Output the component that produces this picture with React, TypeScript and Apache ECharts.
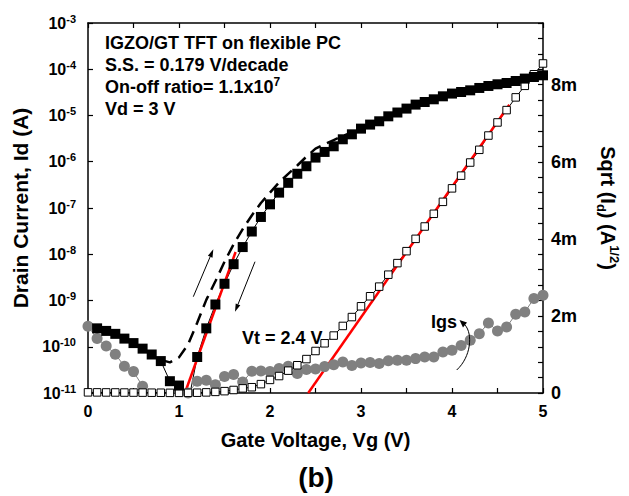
import React, { useEffect, useRef } from 'react';
import * as echarts from 'echarts';

// Gate voltage (V)
const vg = [
  0, 0.1, 0.2, 0.3, 0.4, 0.5, 0.6, 0.7, 0.8, 0.9,
  1.0, 1.1, 1.2, 1.3, 1.4, 1.5, 1.6, 1.7, 1.8, 1.9,
  2.0, 2.1, 2.2, 2.3, 2.4, 2.5, 2.6, 2.7, 2.8, 2.9,
  3.0, 3.1, 3.2, 3.3, 3.4, 3.5, 3.6, 3.7, 3.8, 3.9,
  4.0, 4.1, 4.2, 4.3, 4.4, 4.5, 4.6, 4.7, 4.8, 4.9, 5.0,
];

// Drain current, forward sweep (A) — filled squares
const idForward = [
  null, 2.5e-10, 2.2e-10, 1.9e-10, 1.5e-10, 1.2e-10, 9.1e-11, 6.8e-11, 4.9e-11, 1.8e-11,
  1.45e-11, 6e-12, 6.0e-11, 2.5e-10, 8.2e-10, 2.3e-9, 6.1e-9, 1.43e-8, 3.1e-8, 6.4e-8,
  1.2e-7, 2.15e-7, 3.5e-7, 5.5e-7, 8.0e-7, 1.23e-6, 1.63e-6, 2.16e-6, 3.06e-6, 3.92e-6,
  5.2e-6, 6.36e-6, 7.5e-6, 9.6e-6, 1.16e-5, 1.41e-5, 1.72e-5, 1.96e-5, 2.24e-5, 2.6e-5,
  2.98e-5, 3.22e-5, 3.5e-5, 3.94e-5, 4.35e-5, 4.73e-5, 5.05e-5, 5.57e-5, 6.28e-5, 6.8e-5, 7.4e-5,
];

// Drain current, reverse sweep (A) — dashed line
const idReverse = [
  null, null, null, null, null, null, null, null, 5.2e-11, 4.6e-11,
  5.9e-11, 1.13e-10, 3.3e-10, 1.03e-9, 2.6e-9, 6.9e-9, 1.64e-8, 3.5e-8, 6.9e-8, 1.28e-7,
  2.15e-7, 3.57e-7, 5.46e-7, 8.3e-7, 1.29e-6, 1.92e-6, 2.38e-6, 2.94e-6, 3.62e-6, 4.3e-6,
  null, null, null, null, null, null, null, null, null, null,
  null, null, null, null, null, null, null, null, null, null, null,
];

// Sqrt(Id) in m(A^1/2) — open squares, right axis
const sqrtId = [
  0.017, 0.016, 0.015, 0.014, 0.012, 0.011, 0.010, 0.008, 0.007, 0.004,
  0.004, 0.005, 0.008, 0.016, 0.029, 0.048, 0.078, 0.12, 0.15, 0.23,
  0.34, 0.44, 0.58, 0.72, 0.88, 1.09, 1.29, 1.49, 1.74, 1.97,
  2.25, 2.51, 2.76, 3.07, 3.37, 3.68, 4.0, 4.32, 4.65, 4.96,
  5.31, 5.64, 5.98, 6.31, 6.68, 7.02, 7.34, 7.67, 7.97, 8.27, 8.55,
];

// Gate leakage current Igs (A) — grey circles
const igs = [
  2.77e-10, 1.5e-10, 1.04e-10, 6.9e-11, 3.8e-11, 2.9e-11, 1.4e-11, 7e-12, 5e-12, 6e-12,
  1.14e-11, 1.0e-11, 1.79e-11, 1.88e-11, 1.5e-11, 2.27e-11, 2.51e-11, 1.73e-11, 2.94e-11, 2.98e-11,
  2.92e-11, 3.37e-11, 3.78e-11, 2.63e-11, 3.22e-11, 3.29e-11, 3.72e-11, 4.07e-11, 4.68e-11, 3.91e-11,
  4.45e-11, 4.56e-11, 4.32e-11, 5.0e-11, 5.09e-11, 5.09e-11, 5.54e-11, 6.0e-11, 6.0e-11, 7.7e-11,
  8.4e-11, 1.07e-10, 1.38e-10, 1.92e-10, 3.26e-10, 2.19e-10, 2.67e-10, 5.03e-10, 5.64e-10, 1.1e-9, 1.3e-9,
];

// Red fit lines
const ssFitVg = [1.065, 1.622];
const ssFitId = [1e-11, 1.12e-8];
const vtFitVg = [2.42, 4.63];
const vtFitSqrt = [0, 7.48];

const xTicks = [0, 1, 2, 3, 4, 5];
const rightLabelValues = [0, 2, 4, 6, 8];

const FONT = "'Liberation Sans', Arial, Helvetica, sans-serif";

const pairs = (xs: number[], ys: (number | null)[]) =>
  xs.map((x, i) => [x, ys[i]]).filter((p) => p[1] != null);

export default function App() {
  const ref = useRef<HTMLDivElement>(null);

  useEffect(() => {
    if (!ref.current) return;
    const chart = echarts.init(ref.current, undefined, { renderer: 'svg' });

    const axisLine = { show: true, onZero: false, lineStyle: { color: '#000', width: 1.5 } };
    const tick = { show: true, inside: true, length: 5, lineStyle: { color: '#000', width: 1.2 } };
    const bold = { fontFamily: FONT, fontWeight: 'bold' as const, color: '#000' };

    const option: any = {
      animation: false,
      backgroundColor: '#fff',
      grid: { left: 88, right: 81, top: 23, bottom: 103, containLabel: false },
      xAxis: [
        {
          type: 'value', min: xTicks[0], max: xTicks[xTicks.length - 1], interval: 1, position: 'bottom',
          axisLine, axisTick: tick,
          minorTick: { show: true, splitNumber: 2, length: 5, lineStyle: { color: '#000', width: 1.2 } },
          splitLine: { show: false },
          axisLabel: { ...bold, fontSize: 16, margin: 10 },
          name: 'Gate Voltage, Vg (V)', nameLocation: 'middle', nameGap: 37,
          nameTextStyle: { ...bold, fontSize: 20 },
        },
        {
          type: 'value', min: 0, max: 5, interval: 0.5, position: 'top',
          axisLine, axisTick: tick, splitLine: { show: false }, axisLabel: { show: false },
        },
      ],
      yAxis: [
        {
          type: 'log', logBase: 10, min: 1e-11, max: 1e-3, interval: 1, position: 'left',
          axisLine, axisTick: tick, splitLine: { show: false }, minorTick: { show: false },
          axisLabel: {
            margin: 12,
            formatter: (v: number) => '{b|10}{s|' + Math.round(Math.log10(v)) + '}',
            rich: {
              b: { ...bold, fontSize: 16, lineHeight: 20 },
              s: { ...bold, fontSize: 11, lineHeight: 12, verticalAlign: 'top' },
            },
          },
          name: 'Drain Current, Id (A)', nameLocation: 'middle', nameRotate: 90, nameGap: 57,
          nameTextStyle: { ...bold, fontSize: 21 },
        },
        {
          type: 'value', min: 0, max: 9.6, interval: 0.4, position: 'right',
          axisLine, axisTick: tick, splitLine: { show: false },
          axisLabel: {
            ...bold, fontSize: 18, margin: 8,
            formatter: (v: number) => {
              const hit = rightLabelValues.find((t) => Math.abs(t - v) < 1e-6);
              if (hit === undefined) return '';
              return hit === 0 ? '0' : hit + 'm';
            },
          },
          name: '{n|Sqrt (I}{sub|d}{n|) (A}{sup|1/2}{n|)}', nameLocation: 'middle', nameRotate: -90, nameGap: 52,
          nameTextStyle: {
            ...bold, fontSize: 20,
            rich: {
              n: { ...bold, fontSize: 20, lineHeight: 26 },
              sub: { ...bold, fontSize: 13, lineHeight: 16, verticalAlign: 'bottom' },
              sup: { ...bold, fontSize: 13, lineHeight: 16, verticalAlign: 'top' },
            },
          },
        },
      ],
      series: [
        {
          name: 'Igs', type: 'line', xAxisIndex: 0, yAxisIndex: 0,
          data: pairs(vg, igs),
          symbol: 'circle', symbolSize: 11,
          itemStyle: { color: '#808080' },
          lineStyle: { color: '#808080', width: 1 },
        },
        {
          name: 'sqrtId', type: 'line', xAxisIndex: 0, yAxisIndex: 1,
          data: pairs(vg, sqrtId),
          symbol: 'rect', symbolSize: 7.5,
          itemStyle: { color: '#fff', borderColor: '#000', borderWidth: 1 },
          lineStyle: { color: '#000', width: 1 },
        },
        {
          name: 'idReverse', type: 'line', xAxisIndex: 0, yAxisIndex: 0,
          data: pairs(vg, idReverse),
          symbol: 'none',
          lineStyle: { color: '#000', width: 2.5, type: [12, 7] },
        },
        {
          name: 'idForward', type: 'line', xAxisIndex: 0, yAxisIndex: 0,
          data: pairs(vg, idForward),
          symbol: 'rect', symbolSize: 10,
          itemStyle: { color: '#000' },
          lineStyle: { color: '#000', width: 1 },
        },
        {
          name: 'ssFit', type: 'line', xAxisIndex: 0, yAxisIndex: 0,
          data: pairs(ssFitVg, ssFitId), symbol: 'none',
          lineStyle: { color: '#ff0000', width: 2.5 },
        },
        {
          name: 'vtFit', type: 'line', xAxisIndex: 0, yAxisIndex: 1,
          data: pairs(vtFitVg, vtFitSqrt), symbol: 'none',
          lineStyle: { color: '#ff0000', width: 2.5 },
        },
      ],
      graphic: [
        {
          type: 'text', x: 105, y: 32, z: 100,
          style: {
            text:
              '{t|IGZO/GT TFT on flexible PC}\n{t|S.S. = 0.179 V/decade}\n{t|On-off ratio= 1.1x10}{sup|7}\n{t|Vd = 3 V}',
            align: 'left', verticalAlign: 'top', fill: '#000',
            fontFamily: FONT, fontWeight: 'bold', fontSize: 18,
            rich: {
              t: { fontFamily: FONT, fontWeight: 'bold', fontSize: 18, lineHeight: 22, fill: '#000' },
              sup: { fontFamily: FONT, fontWeight: 'bold', fontSize: 12, lineHeight: 14, verticalAlign: 'top', fill: '#000' },
            },
          },
        },
        {
          type: 'text', x: 242, y: 338, z: 100,
          style: { text: 'Vt = 2.4 V', align: 'left', verticalAlign: 'middle', fill: '#000', fontFamily: FONT, fontWeight: 'bold', fontSize: 18 },
        },
        {
          type: 'text', x: 431, y: 322, z: 100,
          style: { text: 'Igs', align: 'left', verticalAlign: 'middle', fill: '#000', fontFamily: FONT, fontWeight: 'bold', fontSize: 18 },
        },
        {
          type: 'text', x: 316, y: 477, z: 100,
          style: { text: '(b)', align: 'center', verticalAlign: 'middle', fill: '#000', fontFamily: FONT, fontWeight: 'bold', fontSize: 28 },
        },
        // up arrow
        { type: 'line', z: 100, shape: { x1: 193.3, y1: 296.7, x2: 210.2, y2: 256.7 }, style: { stroke: '#000', lineWidth: 1 } },
        { type: 'polygon', z: 100, shape: { points: [[213.3, 249.3], [212.5, 257.7], [207.9, 255.7]] }, style: { fill: '#000' } },
        // down arrow
        { type: 'line', z: 100, shape: { x1: 255, y1: 261.7, x2: 238, y2: 304.3 }, style: { stroke: '#000', lineWidth: 1 } },
        { type: 'polygon', z: 100, shape: { points: [[235, 311.7], [240.3, 305.2], [235.7, 303.4]] }, style: { fill: '#000' } },
        // Igs curved arrow
        {
          type: 'bezierCurve', z: 100,
          shape: { x1: 456.7, y1: 370, cpx1: 471, cpy1: 357, cpx2: 473, cpy2: 334, x2: 465, y2: 325 },
          style: { stroke: '#000', lineWidth: 1, fill: 'none' },
        },
        { type: 'polygon', z: 100, shape: { points: [[459.5, 320], [467, 322.5], [463, 327.5]] }, style: { fill: '#000' } },
      ],
    };

    chart.setOption(option);
    return () => chart.dispose();
  }, []);

  return (
    <div
      ref={ref}
      style={{ position: 'absolute', left: 0, top: 0, width: 629, height: 496, background: '#fff' }}
    />
  );
}
